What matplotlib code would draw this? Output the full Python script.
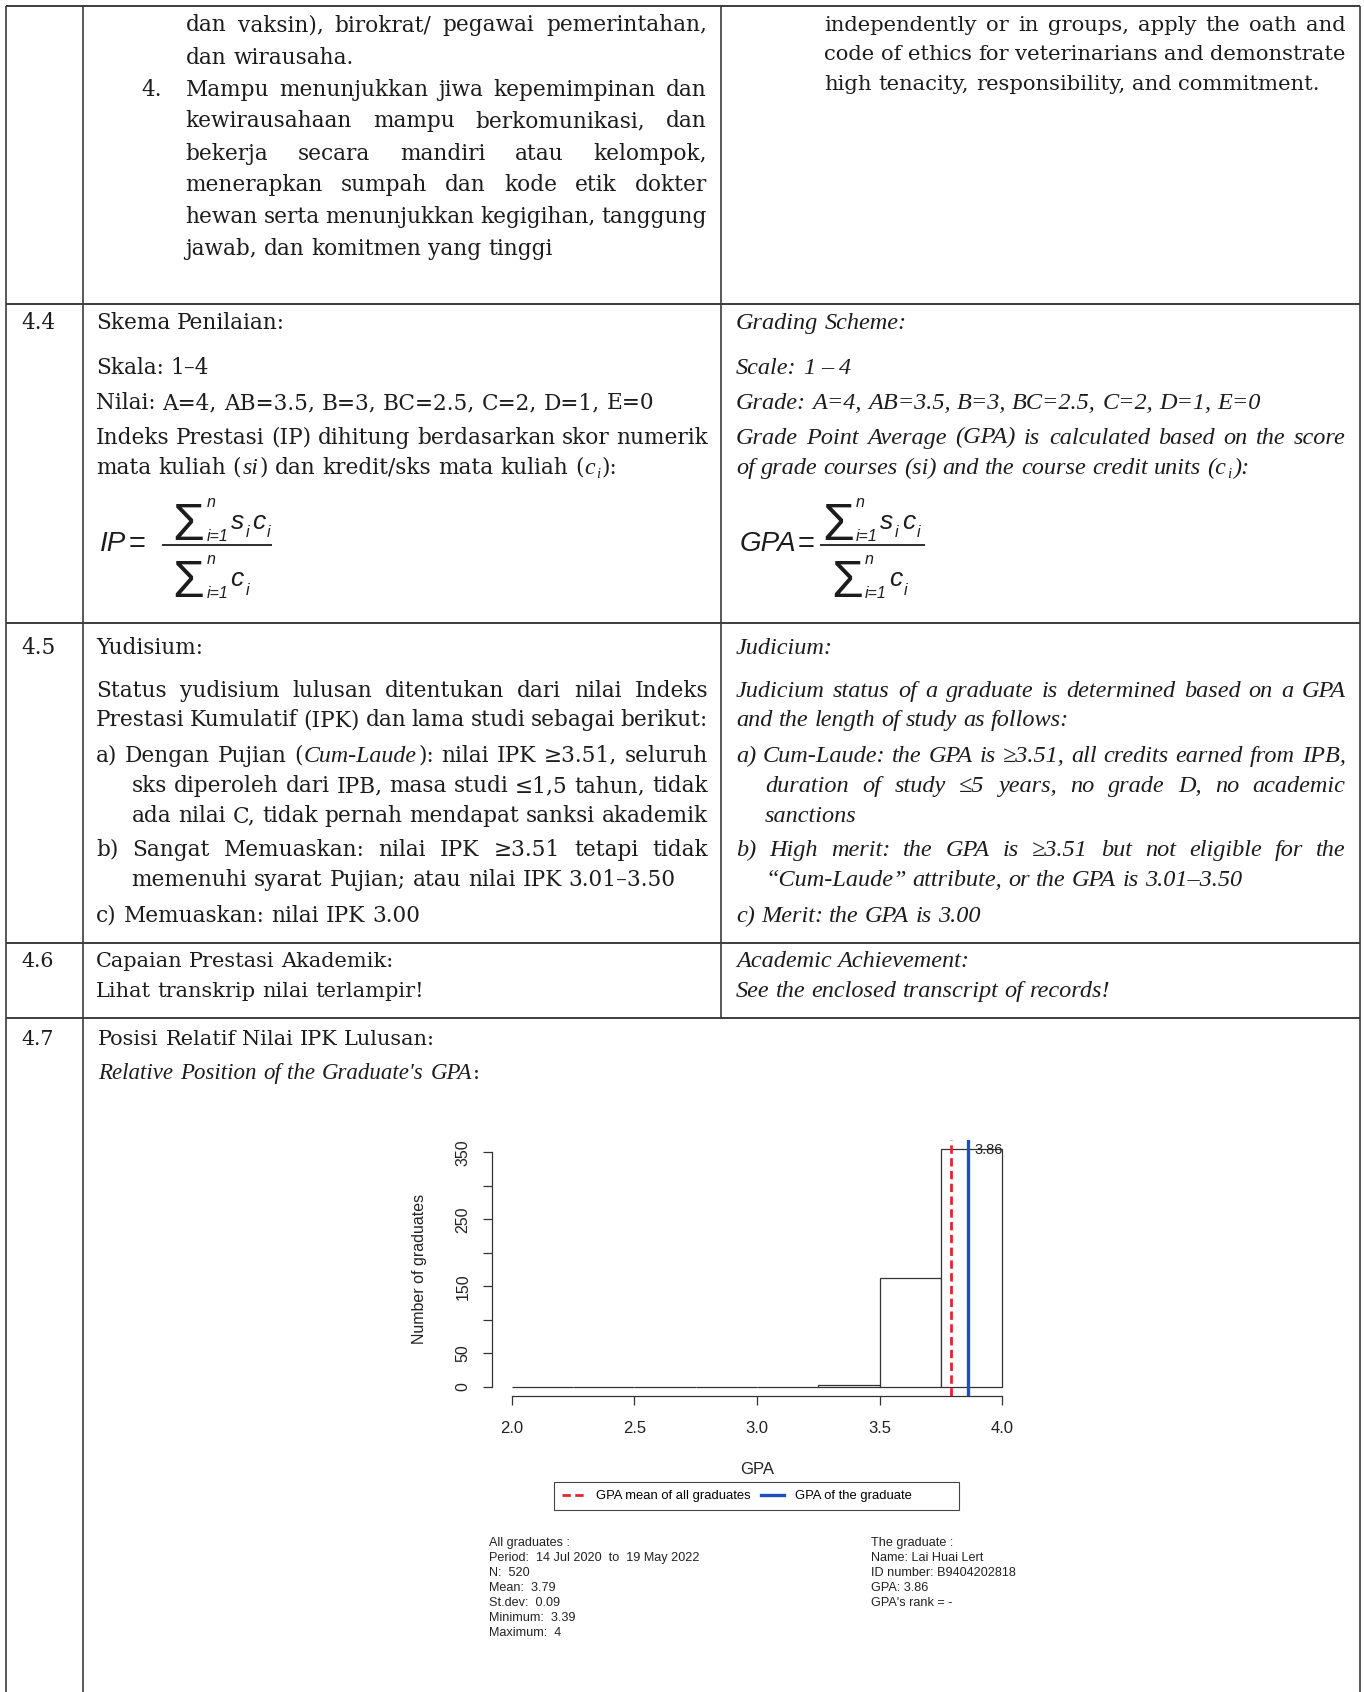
import matplotlib
matplotlib.use("Agg")
import matplotlib.pyplot as plt
from matplotlib.font_manager import FontProperties
from matplotlib.lines import Line2D

# ---- chart data (GPA histogram, bins of 0.25) ----
bin_left = [2.0, 2.25, 2.5, 2.75, 3.0, 3.25, 3.5, 3.75]
counts = [0, 0, 0, 0, 0, 2, 163, 355]
bin_width = 0.25
gpa_mean = 3.79
gpa_graduate = 3.86
x_ticks = [2.0, 2.5, 3.0, 3.5, 4.0]
x_tick_labels = ["2.0", "2.5", "3.0", "3.5", "4.0"]
y_ticks = [0, 50, 100, 150, 200, 250, 300, 350]
y_tick_labels = ["0", "50", "", "150", "", "250", "", "350"]
legend_labels = ["GPA mean of all graduates", "GPA of the graduate"]

stats_all = ["All graduates :", "Period:  14 Jul 2020  to  19 May 2022", "N:  520",
             "Mean:  3.79", "St.dev:  0.09", "Minimum:  3.39", "Maximum:  4"]
stats_grad = ["The graduate :", "Name: Lai Huai Lert", "ID number: B9404202818",
              "GPA: 3.86", "GPA's rank = -"]

# ---- document text ----
row1_id = ["dan vaksin),  birokrat/ pegawai pemerintahan,",
           "dan wirausaha.",
           "Mampu menunjukkan jiwa kepemimpinan dan",
           "kewirausahaan mampu berkomunikasi, dan",
           "bekerja secara mandiri atau kelompok,",
           "menerapkan sumpah dan kode etik dokter",
           "hewan serta menunjukkan kegigihan, tanggung",
           "jawab, dan komitmen yang tinggi"]
row1_en = ["independently or in groups, apply the oath and",
           "code of ethics for veterinarians and demonstrate",
           "high tenacity, responsibility, and commitment."]
row44_id = ["Skema Penilaian:",
            "Skala: 1\u20134",
            "Nilai: A=4, AB=3.5, B=3, BC=2.5, C=2, D=1, E=0",
            "Indeks Prestasi (IP) dihitung berdasarkan skor numerik",
            "mata kuliah (*si*) dan kredit/sks mata kuliah (*c~i~*):"]
row44_en = ["Grading Scheme:",
            "Scale: 1 \u2013 4",
            "Grade: A=4, AB=3.5, B=3, BC=2.5, C=2, D=1, E=0",
            "Grade Point Average (GPA) is calculated based on the score",
            "of grade courses (si) and the course credit units (c~i~):"]
row45_id = ["Yudisium:",
            "Status yudisium lulusan ditentukan dari nilai Indeks",
            "Prestasi Kumulatif (IPK) dan lama studi sebagai berikut:",
            "a) Dengan Pujian (*Cum-Laude*): nilai IPK \u22653.51, seluruh",
            "sks diperoleh dari IPB, masa studi \u22641,5 tahun, tidak",
            "ada nilai C, tidak pernah mendapat sanksi akademik",
            "b) Sangat Memuaskan: nilai IPK \u22653.51 tetapi tidak",
            "memenuhi syarat Pujian; atau nilai IPK 3.01\u20133.50",
            "c) Memuaskan: nilai IPK 3.00"]
row45_en = ["Judicium:",
            "Judicium status of a graduate is determined based on a GPA",
            "and the length of study as follows:",
            "a) Cum-Laude: the GPA is \u22653.51, all credits earned from IPB,",
            "duration of study \u22645 years, no grade D, no academic",
            "sanctions",
            "b) High merit: the GPA is \u22653.51 but not eligible for the",
            "\u201cCum-Laude\u201d attribute, or the GPA is 3.01\u20133.50",
            "c) Merit: the GPA is 3.00"]
row46_id = ["Capaian Prestasi Akademik:", "Lihat transkrip nilai terlampir!"]
row46_en = ["Academic Achievement:", "See the enclosed transcript of records!"]
row47 = ["Posisi Relatif Nilai IPK Lulusan:", "*Relative Position of the Graduate's GPA*:"]
row_numbers = ["4.4", "4.5", "4.6", "4.7"]

# ---- page setup: background axes in scan units ----
W, H = 1264, 1568
fig = plt.figure(figsize=(13.64, 16.92), dpi=100)
fig.patch.set_facecolor("white")
bg = fig.add_axes([0, 0, 1, 1])
bg.set_xlim(0, W)
bg.set_ylim(H, 0)
bg.axis("off")
renderer = fig.canvas.get_renderer()
UNIT = 1364.0 / W

UPRIGHT = ["DejaVu Serif"]
ITALIC = ["Liberation Serif", "DejaVu Serif"]
SANS = ["Liberation Sans", "DejaVu Sans"]
INK = "#1c1c1c"
LINE = "#3c3c3c"
FS_ID = 15.6
FS_EN = 17.5


def text_width(s, size, italic=False, family=None):
    if family is None:
        family = ITALIC if italic else UPRIGHT
    fp = FontProperties(family=family, style="italic" if italic else "normal", size=size)
    w, h, d = renderer.get_text_width_height_descent(s, fp, ismath=False)
    return w / UNIT


def split_runs(line, italic):
    words = []
    sub = False
    for word in line.split():
        runs = []
        buf = ""
        for ch in word:
            if ch in "*~":
                if buf:
                    runs.append((buf, italic, sub))
                    buf = ""
                if ch == "*":
                    italic = not italic
                else:
                    sub = not sub
            else:
                buf += ch
        if buf:
            runs.append((buf, italic, sub))
        words.append(runs)
    return words


def run_size(size, it, sub, it_scale):
    s = size * (it_scale if it else 1)
    return s * (0.62 if sub else 1)


def run_width(runs, size, it_scale):
    w = 0
    for t, it, s in runs:
        w += text_width(t, run_size(size, it, s, it_scale), it) + 1.2
    return w - 1.2


def draw_line(x0, yc, line, size, italic=False, x1=None):
    words = split_runs(line, italic)
    it_scale = 1.0 if italic else 1.1
    base_it = italic
    while True:
        space = text_width("n n", size, base_it) - text_width("nn", size, base_it)
        widths = [run_width(r, size, it_scale) for r in words]
        total = sum(widths)
        if x1 is None or len(words) < 2:
            gap = space
            break
        gap = (x1 - x0 - total) / (len(words) - 1)
        if gap >= 0.6 * space:
            break
        size *= 0.98
    y = yc + 7
    x = x0
    for runs, w in zip(words, widths):
        xx = x
        for t, it, s in runs:
            sz = run_size(size, it, s, it_scale)
            bg.text(xx, y + (4 if s else 0), t, fontsize=sz,
                    family=ITALIC if it else UPRIGHT,
                    style="italic" if it else "normal", color=INK, ha="left", va="baseline")
            xx += text_width(t, sz, it) + 1.2
        x += w + gap


def draw_block(lines, xs, ys, x1s, size, italic=False):
    for line, x0, yc, x1 in zip(lines, xs, ys, x1s):
        draw_line(x0, yc, line, size, italic, x1)


def draw_formula(lhs, x_lhs, x_bar, bar_len, yc, num_dx, den_dx):
    bg.text(x_lhs, yc - 1, lhs, fontsize=20, family=SANS, style="italic",
            va="center", ha="left", color=INK)
    x_eq = x_lhs + text_width(lhs, 20, True, SANS) + 2
    bg.text(x_eq, yc - 1, "=", fontsize=21, family=SANS, va="center", ha="left", color=INK)
    bg.plot([x_bar, x_bar + bar_len], [yc, yc], color=INK, lw=1.3, solid_capstyle="butt")
    parts = [(num_dx, yc - 5, ["s", "c"]), (den_dx, yc + 48, ["c"])]
    for dx, base, variables in parts:
        sx = x_bar + dx
        bg.text(sx, base, "\u03a3", fontsize=37, family=SANS, va="baseline", ha="left", color=INK)
        xs = sx + text_width("\u03a3", 37, False, SANS) + 2
        bg.text(xs, base - 30, "n", fontsize=11.5, family=SANS, style="italic",
                va="baseline", ha="left", color=INK)
        bg.text(xs, base + 1, "i=1", fontsize=11.5, family=SANS, style="italic",
                va="baseline", ha="left", color=INK)
        xv = xs + text_width("i=1", 11.5, True, SANS) + 2
        for v in variables:
            bg.text(xv, base - 10, v, fontsize=19, family=SANS, style="italic",
                    va="baseline", ha="left", color=INK)
            xv += text_width(v, 19, True, SANS) + 1.5
            bg.text(xv, base - 2, "i", fontsize=11.5, family=SANS, style="italic",
                    va="baseline", ha="left", color=INK)
            xv += text_width("i", 11.5, True, SANS) + 3


# ---- table grid ----
for y in [6, 282, 577, 874, 943]:
    bg.plot([6, 1260], [y, y], color=LINE, lw=1.4, solid_capstyle="butt")
for x, y0, y1 in [(6, 6, H), (77, 6, H), (668, 6, 943), (1260, 6, H)]:
    bg.plot([x, x], [y0, y1], color=LINE, lw=1.2, solid_capstyle="butt")

# row numbers
for label, yc in zip(row_numbers, [298, 599, 889, 961]):
    draw_line(20, yc, label, FS_ID if label in ("4.4", "4.5") else 14.8)

# row 1 (continuation of 4.3)
draw_line(131, 82, "4.", FS_ID)
draw_block(row1_id, [172] * 8, [22, 52, 82, 111, 141, 170, 200, 229],
           [655, None, 655, 655, 655, 655, 655, None], FS_ID)
draw_block(row1_en, [764] * 3, [22, 49, 76], [1247, 1247, None], 15.2)

# row 4.4
draw_block(row44_id, [89] * 5, [298, 340, 372, 404, 432],
           [None, None, None, 656, None], FS_ID)
draw_block(row44_en, [682] * 5, [298, 340, 372, 404, 432],
           [None, None, None, 1247, None], FS_EN, italic=True)
draw_formula("IP", 93, 150, 102, 505, 10, 10)
draw_formula("GPA", 685, 760, 97, 505, 2, 10)

# row 4.5
draw_block(row45_id, [89, 89, 89, 89, 122, 122, 89, 122, 89],
           [599, 639, 666, 699, 727, 755, 786, 814, 847],
           [None, 656, 656, 656, 656, 656, 656, None, None], FS_ID)
draw_block(row45_en, [682, 682, 682, 682, 709, 709, 682, 709, 682],
           [599, 639, 666, 699, 727, 755, 786, 814, 847],
           [None, 1247, None, 1247, 1247, None, 1247, None, None], FS_EN, italic=True)

# row 4.6
draw_block(row46_id, [89, 89], [889, 917], [None, None], 15)
draw_block(row46_en, [682, 682], [889, 917], [None, None], FS_EN, italic=True)

# row 4.7
draw_block(row47, [91, 91], [961, 993], [None, None], 15)

# ---- histogram (R style) ----
RED = "#e3262b"
BLUE = "#1f4fbf"
ax = fig.add_axes([455.8 / W, 1 - 1294.0 / H, 491.4 / W, 238.0 / H])
ax.patch.set_alpha(0)
ax.bar(bin_left, counts, width=bin_width, align="edge", facecolor="white",
       edgecolor="#333333", linewidth=0.9)
ax.axvline(gpa_mean, color=RED, lw=2.0, ls=(0, (3, 1.6)))
ax.axvline(gpa_graduate, color=BLUE, lw=2.4)
ax.text(gpa_graduate + 0.024, max(counts) - 2, "%.2f" % gpa_graduate, fontsize=10.5,
        family=SANS, va="center", ha="left", color="#222222")
ax.set_xlim(1.92, 4.08)
ax.set_ylim(-14.2, 369.2)
for side in ["top", "right"]:
    ax.spines[side].set_visible(False)
ax.spines["left"].set_bounds(0, 350)
ax.spines["bottom"].set_bounds(2, 4)
for side in ["left", "bottom"]:
    ax.spines[side].set_linewidth(0.9)
    ax.spines[side].set_color("#333333")
ax.set_xticks(x_ticks)
ax.set_xticklabels(x_tick_labels, fontsize=12, family=SANS)
ax.set_yticks(y_ticks)
ax.set_yticklabels(y_tick_labels, fontsize=11.5, family=SANS, rotation=90, va="center")
ax.tick_params(axis="both", direction="out", length=6.5, width=0.9, color="#333333",
               labelcolor="#222222")
ax.tick_params(axis="x", pad=11)
ax.tick_params(axis="y", pad=9)
ax.set_xlabel("GPA", fontsize=12, family=SANS, color="#222222")
ax.xaxis.set_label_coords(0.501, -0.255)
ax.set_ylabel("Number of graduates", fontsize=11.5, family=SANS, color="#222222")
ax.yaxis.set_label_coords(-0.122, 0.496)

handles = [Line2D([], [], color=RED, lw=2.0, ls=(0, (3, 1.6))),
           Line2D([], [], color=BLUE, lw=2.4)]
leg_labels = [legend_labels[0], legend_labels[1] + " " * 11]
leg = fig.legend(handles, leg_labels, loc="center left", ncol=2,
                 bbox_to_anchor=(513.0 / W, 1 - 1386.5 / H), frameon=True, fancybox=False,
                 edgecolor="#444444", framealpha=1, borderaxespad=0,
                 prop=FontProperties(family=SANS, size=9.4), handlelength=1.75,
                 handletextpad=0.85, columnspacing=0.8, borderpad=0.62)
leg.get_frame().set_linewidth(0.8)

# summary statistics
for i, line in enumerate(stats_all):
    bg.text(453, 1430 + 13.9 * i, line, fontsize=9.1, family=SANS, va="center",
            ha="left", color="#222222")
for i, line in enumerate(stats_grad):
    bg.text(807, 1430 + 13.9 * i, line, fontsize=9.1, family=SANS, va="center",
            ha="left", color="#222222")

fig.savefig("out.png", dpi=100, facecolor="white")
